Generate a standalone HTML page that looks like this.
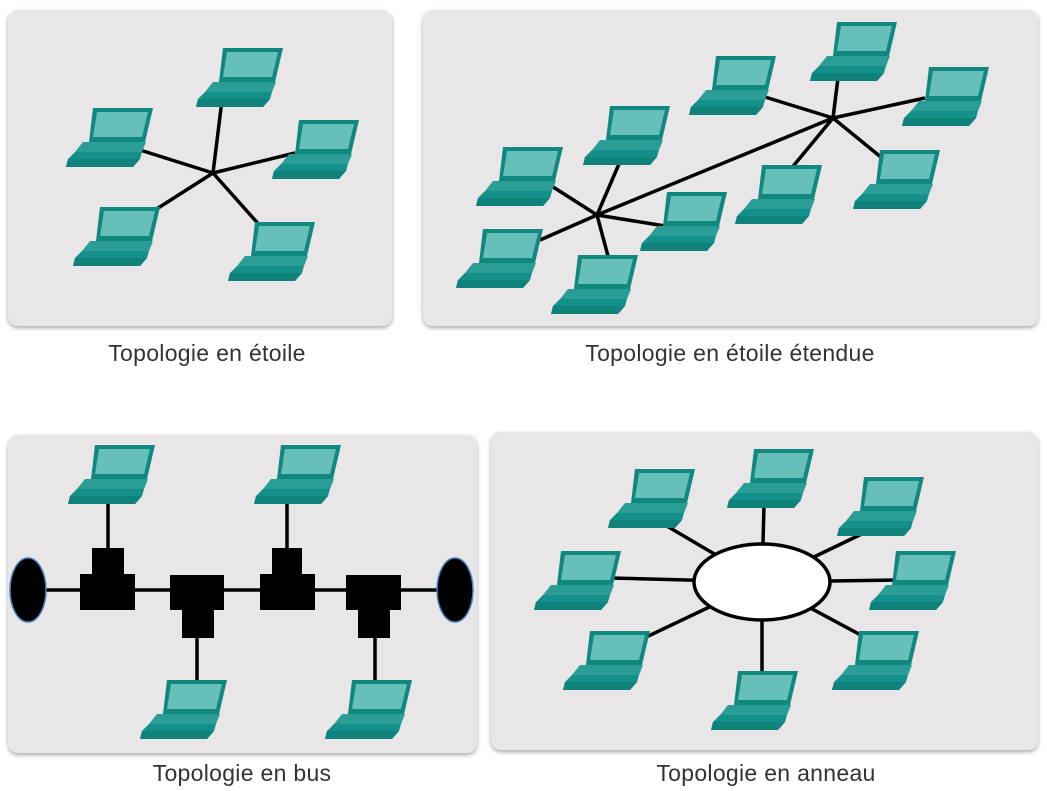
<!DOCTYPE html>
<html><head><meta charset="utf-8"><style>
body{margin:0;background:#fff;width:1047px;height:791px;overflow:hidden}
svg{display:block}
text{font-family:"Liberation Sans",sans-serif;font-size:23px;fill:#333;letter-spacing:0.3px}
</style></head><body>
<svg width="1047" height="791" viewBox="0 0 1047 791">
<defs>
<filter id="sh" x="-5%" y="-5%" width="110%" height="110%"><feDropShadow dx="0" dy="2" stdDeviation="2" flood-color="#000" flood-opacity="0.35"/></filter>
<g id="lp">
<polygon points="27,0 87,0 79,34 23,34" fill="#10877f"/>
<polygon points="31,4 82,4 76,29 27,29" fill="#67bfb9"/>
<polygon points="17,34 80,34 76,44 9,44" fill="#2a9e96"/>
<polygon points="9,44 76,44 74,51 67,59 0,59 2,51" fill="#14908a"/>
<polygon points="2,51 74,51 67,59 0,59" fill="#0e827b"/>
</g>
</defs>
<g filter="url(#sh)" fill="#e8e6e7">
<rect x="8" y="10" width="384" height="316" rx="10"/>
<rect x="423" y="10" width="615" height="316" rx="10"/>
<rect x="8" y="435" width="469" height="318" rx="10"/>
<rect x="491" y="432" width="547" height="318" rx="10"/>
</g>
<g stroke="#000" stroke-width="3.5">
<line x1="213" y1="173" x2="222" y2="100"/><line x1="213" y1="173" x2="140" y2="150"/>
<line x1="213" y1="173" x2="295" y2="153"/><line x1="213" y1="173" x2="155" y2="210"/>
<line x1="213" y1="173" x2="262" y2="228"/>
<line x1="597" y1="215" x2="625" y2="150"/><line x1="597" y1="215" x2="550" y2="185"/>
<line x1="597" y1="215" x2="540" y2="240"/><line x1="597" y1="215" x2="608" y2="256"/>
<line x1="597" y1="215" x2="665" y2="226"/><line x1="597" y1="215" x2="833" y2="118"/>
<line x1="833" y1="118" x2="765" y2="97"/><line x1="833" y1="118" x2="838" y2="78"/>
<line x1="833" y1="118" x2="925" y2="98"/><line x1="833" y1="118" x2="882" y2="158"/>
<line x1="833" y1="118" x2="790" y2="170"/>
<line x1="40" y1="590" x2="440" y2="590"/>
<line x1="108" y1="500" x2="108" y2="548"/><line x1="287" y1="500" x2="287" y2="548"/>
<line x1="197" y1="638" x2="197" y2="688"/><line x1="375" y1="638" x2="375" y2="688"/>
<line x1="762" y1="582" x2="660" y2="522"/><line x1="762" y1="582" x2="764" y2="505"/>
<line x1="762" y1="582" x2="870" y2="530"/><line x1="762" y1="582" x2="610" y2="578"/>
<line x1="762" y1="582" x2="900" y2="580"/><line x1="762" y1="582" x2="640" y2="640"/>
<line x1="762" y1="582" x2="870" y2="640"/><line x1="762" y1="582" x2="762" y2="675"/>
</g>
<ellipse cx="762" cy="582" rx="68" ry="38" fill="#fff" stroke="#000" stroke-width="3.5"/>
<g fill="#000">
<ellipse cx="28" cy="590" rx="18" ry="32" stroke="#4a7fc0" stroke-width="1.5"/>
<ellipse cx="455" cy="590" rx="18" ry="32" stroke="#4a7fc0" stroke-width="1.5"/>
<rect x="92" y="548" width="32" height="28"/><rect x="80" y="574" width="55" height="36"/>
<rect x="170" y="575" width="54" height="35"/><rect x="182" y="608" width="32" height="30"/>
<rect x="272" y="548" width="30" height="28"/><rect x="260" y="574" width="55" height="36"/>
<rect x="346" y="575" width="55" height="35"/><rect x="358" y="608" width="32" height="30"/>
</g>
<use href="#lp" x="196" y="48"/><use href="#lp" x="66" y="108"/><use href="#lp" x="272" y="120"/>
<use href="#lp" x="73" y="207"/><use href="#lp" x="228" y="222"/>
<use href="#lp" x="689" y="56"/><use href="#lp" x="810" y="22"/><use href="#lp" x="902" y="67"/>
<use href="#lp" x="583" y="106"/><use href="#lp" x="476" y="147"/><use href="#lp" x="853" y="150"/>
<use href="#lp" x="735" y="165"/><use href="#lp" x="640" y="192"/><use href="#lp" x="456" y="229"/>
<use href="#lp" x="551" y="255"/>
<use href="#lp" x="68" y="445"/><use href="#lp" x="254" y="445"/>
<use href="#lp" x="140" y="680"/><use href="#lp" x="325" y="680"/>
<use href="#lp" x="608" y="469"/><use href="#lp" x="727" y="449"/><use href="#lp" x="837" y="477"/>
<use href="#lp" x="534" y="551"/><use href="#lp" x="869" y="551"/><use href="#lp" x="563" y="631"/>
<use href="#lp" x="832" y="631"/><use href="#lp" x="711" y="671"/>
<text x="207" y="361" text-anchor="middle">Topologie en étoile</text>
<text x="730" y="361" text-anchor="middle">Topologie en étoile étendue</text>
<text x="242" y="781" text-anchor="middle">Topologie en bus</text>
<text x="766" y="781" text-anchor="middle">Topologie en anneau</text>
</svg>
</body></html>
